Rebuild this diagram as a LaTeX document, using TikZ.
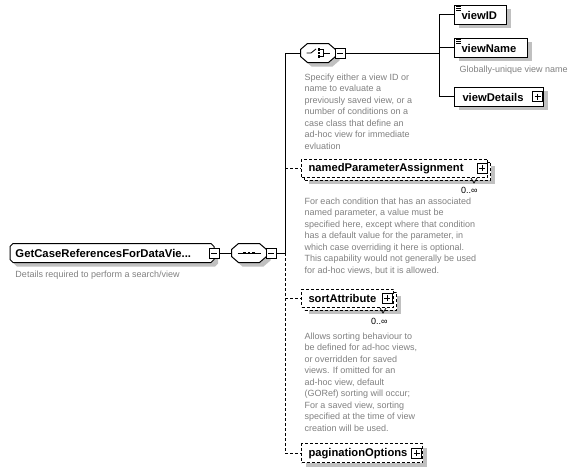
\documentclass[tikz,border=0pt]{standalone}
\usepackage{fontspec}
\setmainfont{Liberation Sans}
\usetikzlibrary{shadows,calc}
\definecolor{shgray}{RGB}{192,192,192}
\definecolor{txtgray}{RGB}{128,128,128}
\pgfdeclarelayer{background}
\pgfsetlayers{background,main}
% octagon path round a named node: name, chamfer x, chamfer y, offset x, offset y
\newcommand\octo[5]{($(#1.north west)+(#2+#4,#5)$) -- ($(#1.north east)+(-#2+#4,#5)$) -- ($(#1.north east)+(#4,#3+#5)$) -- ($(#1.south east)+(#4,-#3+#5)$) -- ($(#1.south east)+(-#2+#4,#5)$) -- ($(#1.south west)+(#2+#4,#5)$) -- ($(#1.south west)+(#4,-#3+#5)$) -- ($(#1.north west)+(#4,#3+#5)$) -- cycle}
\begin{document}
\begin{tikzpicture}[x=1pt,y=-1pt,line width=1pt,
  lbl/.style={font=\fontsize{11.2}{14}\selectfont\bfseries, anchor=west, inner sep=0},
  ann/.style={font=\fontsize{9}{11.5}\selectfont, text=txtgray, anchor=north west, align=left, inner sep=0},
  ebox/.style={draw, fill=white, rectangle, inner sep=0, minimum height=19pt, anchor=west},
  frame/.style={rectangle, inner sep=0, minimum height=18pt, draw=none},
  shad/.style={drop shadow={shadow xshift=4pt, shadow yshift=-4pt, fill=shgray, opacity=1}},
  opt/.style={dash pattern=on 3pt off 2pt},
  pmbox/.style={draw, fill=white, rectangle, inner sep=0, minimum size=10pt, line width=0.8pt},
  minus/.style={pmbox, path picture={\draw[line width=0.8pt] ([xshift=2pt]path picture bounding box.west) -- ([xshift=-2pt]path picture bounding box.east);}},
  plus/.style={pmbox, path picture={\draw[line width=0.8pt] ([xshift=2pt]path picture bounding box.west) -- ([xshift=-2pt]path picture bounding box.east) ([yshift=-2pt]path picture bounding box.north) -- ([yshift=2pt]path picture bounding box.south);}},
  mult/.style={font=\fontsize{9}{11}\selectfont, anchor=east, inner sep=0},
  dot/.style={fill=black, draw=none, rectangle, inner sep=0, minimum size=2.2pt},
]
\useasboundingbox (0,0) rectangle (583,472);

% ---------- root element ----------
\node[frame, minimum width=203pt, anchor=west] (root) at (10,253) {};
\fill[shgray] \octo{root}{3}{3}{4}{4};
\draw[fill=white] \octo{root}{3}{3}{0}{0};
\node[lbl, font=\fontsize{11.3}{14}\selectfont\bfseries] (rootl) at (15,253) {GetCaseReferencesForDataVie...};
\node[minus] (rootpm) at (root.east) {};
\node[ann, anchor=west] (roota) at (15,275) {Details required to perform a search/view};

% ---------- sequence ----------
\node[frame, minimum width=34pt] (seq) at (249,253) {};
\fill[shgray] \octo{seq}{7}{6}{4}{4};
\draw[fill=white] \octo{seq}{7}{6}{0}{0};
\draw[line width=0.8pt] ($(seq.west)+(6,0)$) -- ($(seq.east)+(-6,0)$);
\node[dot] (sd1) at ($(seq.center)+(-4.5,0)$) {};
\node[dot] (sd2) at (seq.center) {};
\node[dot] (sd3) at ($(seq.center)+(4.5,0)$) {};
\node[minus] (seqpm) at (271,253) {};

% ---------- choice ----------
\node[frame, minimum width=34pt] (ch) at (318,53) {};
\fill[shgray] \octo{ch}{7}{6}{4}{4};
\draw[fill=white] \octo{ch}{7}{6}{0}{0};
\draw[line width=0.8pt] ($(ch.west)+(6,0)$) -- ($(ch.center)+(-7,0)$) -- ($(ch.center)+(-2,-4)$);
\node[dot] (cd1) at ($(ch.center)+(1,-3.5)$) {};
\node[dot] (cd2) at ($(ch.center)+(1,0)$) {};
\node[dot] (cd3) at ($(ch.center)+(1,3.5)$) {};
\draw[line width=0.8pt] ($(ch.center)+(2,-3.5)$) -- ($(ch.center)+(5,-3.5)$) -- ($(ch.center)+(5,3.5)$) -- ($(ch.center)+(2,3.5)$)
  ($(ch.center)+(5,0)$) -- ($(ch.east)+(-6,0)$);
\node[minus] (chpm) at (340,53) {};
\node[ann] (cha) at (304,73) {Specify either a view ID or\\name to evaluate a\\previously saved view, or a\\number of conditions on a\\case class that define an\\ad-hoc view for immediate\\evluation};

% ---------- choice children ----------
\node[ebox, shad, minimum width=52pt] (vid) at (454,14.5) {};
\draw[line width=0.7pt] (456,6.5) -- (461,6.5) (456,8.5) -- (461,8.5) (456,10.5) -- (461,10.5);
\node[lbl] (vidl) at (461,15.5) {viewID};

\node[ebox, shad, minimum width=73pt] (vnm) at (454,47.5) {};
\draw[line width=0.7pt] (456,39.5) -- (461,39.5) (456,41.5) -- (461,41.5) (456,43.5) -- (461,43.5);
\node[lbl] (vnml) at (461,48.5) {viewName};
\node[ann, anchor=west] (vnma) at (459,70) {Globally-unique view name};

\node[ebox, shad, minimum width=89pt] (vdt) at (454,96.5) {};
\node[lbl] (vdtl) at (462,97) {viewDetails};
\node[plus] (vdtpm) at (537.5,96.5) {};

% ---------- namedParameterAssignment (repeated) ----------
\node[ebox, shad, opt, minimum width=186pt, minimum height=18pt] (npb) at (304,171) {};
\node[ebox, opt, minimum width=186pt, minimum height=18pt] (np) at (301,168) {};
\node[lbl] (npl) at (308,168.5) {namedParameterAssignment};
\node[plus] (nppm) at (482,168) {};
\draw[line width=0.7pt] (471,178) -- (474,183) -- (477,178);
\node[mult] (npm) at (478,190) {0..∞};
\node[ann] (npa) at (304,197) {For each condition that has an associated\\named parameter, a value must be\\specified here, except where that condition\\has a default value for the parameter, in\\which case overriding it here is optional.\\This capability would not generally be used\\for ad-hoc views, but it is allowed.};

% ---------- sortAttribute (repeated) ----------
\node[ebox, shad, opt, minimum width=92pt, minimum height=18pt] (sab) at (304,301) {};
\node[ebox, opt, minimum width=92pt, minimum height=18pt] (sa) at (301,298) {};
\node[lbl] (sal) at (308,298.5) {sortAttribute};
\node[plus] (sapm) at (387,298) {};
\draw[line width=0.7pt] (380,308) -- (383,313) -- (386,308);
\node[mult] (sam) at (388,321) {0..∞};
\node[ann] (saa) at (304,332) {Allows sorting behaviour to\\be defined for ad-hoc views,\\or overridden for saved\\views. If omitted for an\\ad-hoc view, default\\(GORef) sorting will occur;\\For a saved view, sorting\\specified at the time of view\\creation will be used.};

% ---------- paginationOptions ----------
\node[ebox, shad, opt, minimum width=121pt] (pg) at (301,453) {};
\node[lbl] (pgl) at (308,453.5) {paginationOptions};
\node[plus] (pgpm) at (416.5,453) {};

% ---------- connectors ----------
\coordinate (bartop) at (285,53);
\coordinate (barmid) at (285,253);
\coordinate (barbot) at (285,453);
\coordinate (rbar) at (439,53);
\begin{pgfonlayer}{background}
\draw (rootpm.east) -- (seqpm.west -| seq.west);
\draw (seqpm.east) -- (barmid);
\draw (bartop) -- (barmid);
\draw[opt] (barmid) -- (barbot);
\draw (bartop) -- (ch.west);
\draw[opt] (bartop |- np.west) -- (np.west);
\draw[opt] (bartop |- sa.west) -- (sa.west);
\draw[opt] (barbot) -- (pg.west);
\draw (chpm.east) -- (rbar);
\draw (rbar |- vid.west) -- (rbar |- vdt.west);
\draw (rbar |- vid.west) -- (vid.west);
\draw (rbar |- vnm.west) -- (vnm.west);
\draw (rbar |- vdt.west) -- (vdt.west);
\end{pgfonlayer}
\end{tikzpicture}
\end{document}
